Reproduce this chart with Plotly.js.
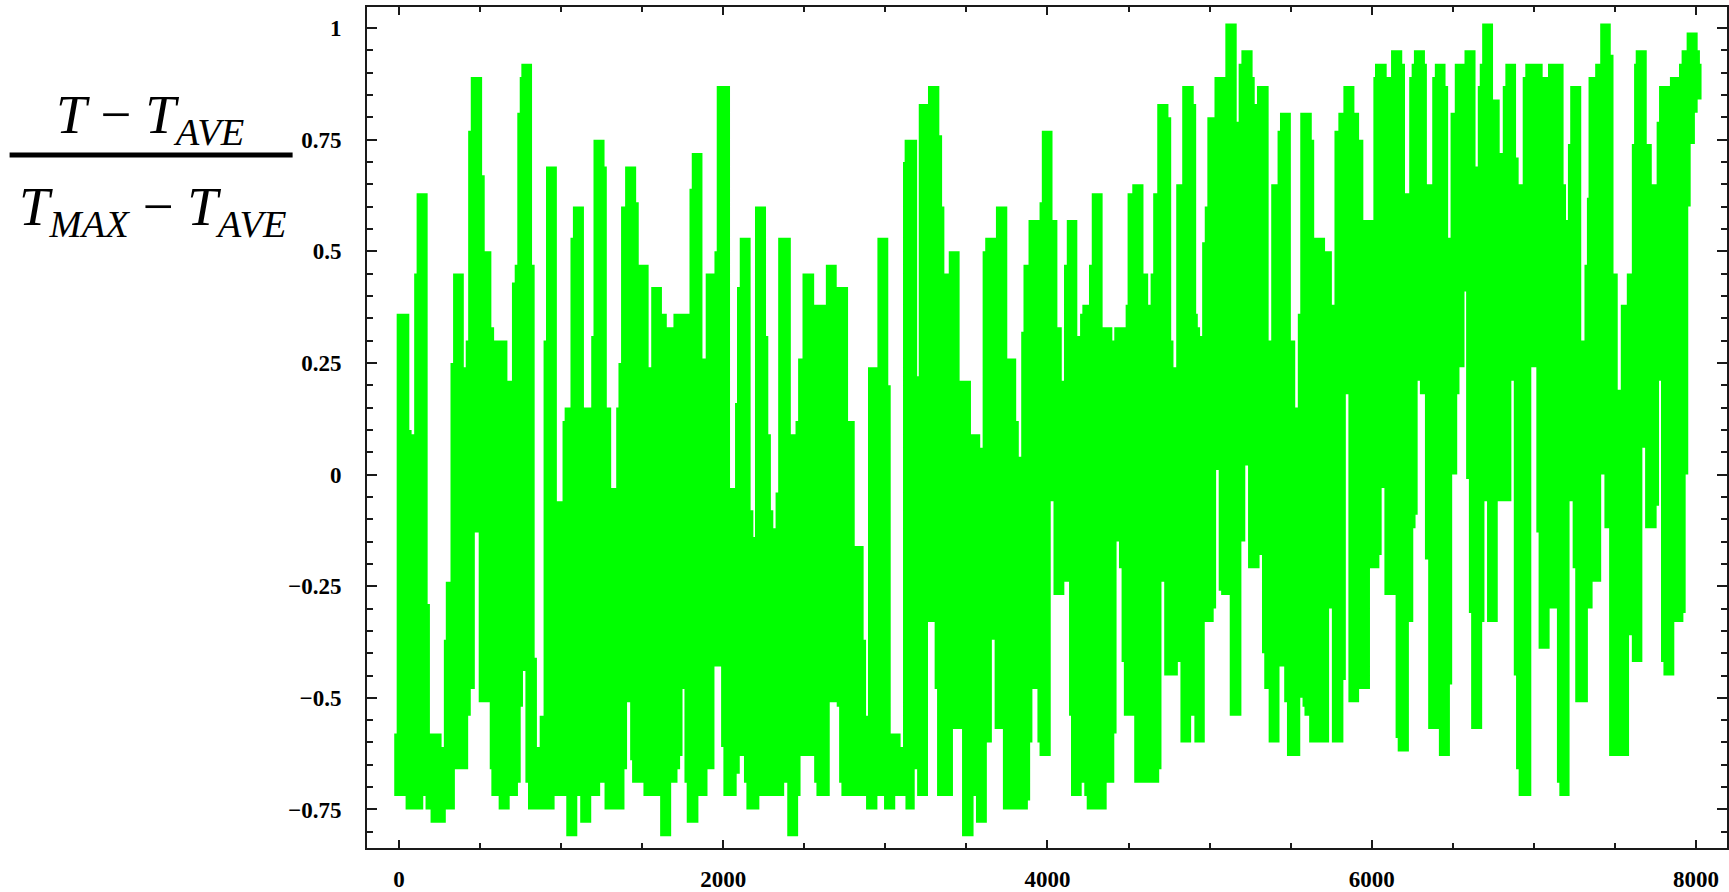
<!DOCTYPE html>
<html>
<head>
<meta charset="utf-8">
<script src="https://cdn.plot.ly/plotly-3.0.1.min.js"></script>
<style>
html,body{margin:0;padding:0;background:#fff;}
#chart{width:1729px;height:892px;}
</style>
</head>
<body>
<div id="chart"></div>
<script>
// Upper edge of the thick green trace (step profile)
const xUpper = [-29,-14,64,78,94,109,177,191,263,277,289,318,334,400,412,427,443,513,529,570,587,669,697,714,730,745,755,821,837,851,868,892,907,974,1009,1022,1058,1073,1141,1186,1200,1268,1282,1309,1340,1354,1370,1395,1463,1479,
1540,1556,1622,1652,1693,1792,1806,1872,1892,1946,1960,2042,2073,2085,2102,2169,2186,2196,2264,2278,2294,2309,2323,2339,2417,2446,2462,2489,2561,2633,2700,2770,2811,2866,2881,2893,2951,3018,3033,3094,3109,
3119,3196,3206,3263,3333,3350,3364,3391,3458,3528,3585,3600,3616,3682,3752,3807,3823,3838,3852,3883,3951,3965,4031,4061,4088,4102,4119,4184,4201,4215,4256,4273,4340,4400,4412,4482,4494,4523,4592,4621,4636,4652,4677,
4746,4763,4777,4794,4831,4902,4917,4927,4941,4954,4970,4986,5030,5097,5167,5179,5196,5265,5278,5292,5364,5380,5419,5434,5501,5528,5544,5559,5630,5645,5712,5754,5770,5794,5825,5893,5922,5948,6010,6020,6092,6119,6188,6205,6231,6246,6260,6328,
6340,6373,6389,6455,6471,6486,6512,6572,6640,6654,6666,6681,6748,6789,6808,6824,6890,6906,6931,6947,7054,7087,7183,7198,7210,7224,7292,7312,7327,7337,7378,7409,7474,7491,7517,7536,7573,7604,7618,7628,7696,7727,7757,7772,7839,7895,7911,7942,8010,8024,8034];
const yUpper = [-0.58,0.36,0.10,0.09,0.45,0.63,-0.29,-0.58,-0.61,-0.37,-0.24,0.25,0.45,0.24,0.30,0.77,0.89,0.67,0.50,0.33,0.30,0.21,0.43,0.47,0.81,0.89,0.92,0.47,-0.41,-0.61,-0.54,0.30,0.69,-0.06,0.12,0.15,0.53,0.60,0.15,0.31,0.75,0.69,0.15,-0.03,0.15,0.25,0.60,0.69,0.61,0.47,
0.24,0.42,0.36,0.33,0.36,0.64,0.72,0.26,0.45,0.50,0.87,-0.03,0.16,0.42,0.53,-0.08,-0.14,0.60,0.31,0.09,-0.08,-0.12,-0.04,0.53,0.09,0.12,0.26,0.45,0.38,0.47,0.42,0.12,-0.16,-0.37,-0.54,0.24,0.53,0.20,-0.58,-0.61,0.70,
0.75,0.22,0.83,0.87,0.76,0.60,0.45,0.50,0.21,0.09,0.06,0.50,0.53,0.60,0.26,0.12,0.04,0.32,0.47,0.57,0.61,0.77,0.57,0.33,0.21,0.47,0.57,0.31,0.36,0.38,0.47,0.63,0.33,0.30,0.33,0.38,0.63,0.65,0.45,0.38,0.45,0.63,0.83,
0.80,0.30,0.24,0.65,0.87,0.83,0.36,0.33,0.31,0.52,0.60,0.80,0.89,1.01,0.79,0.92,0.95,0.89,0.83,0.87,0.30,0.65,0.77,0.81,0.30,0.15,0.36,0.81,0.75,0.53,0.50,0.38,0.77,0.81,0.87,0.81,0.75,0.57,0.89,0.92,0.89,0.95,0.92,0.63,0.89,0.92,0.95,0.92,
0.65,0.89,0.92,0.87,0.53,0.81,0.92,0.95,0.69,0.87,0.92,1.01,0.84,0.72,0.87,0.92,0.71,0.65,0.89,0.92,0.89,0.92,0.65,0.57,0.74,0.87,0.30,0.47,0.62,0.89,0.92,1.01,0.94,0.45,0.19,0.38,0.45,0.74,0.92,0.95,0.74,0.65,0.79,0.87,0.89,0.92,0.95,0.99,0.95,0.92,0.92];

// Lower edge of the thick green trace (step profile)
const xLower = [-29,41,150,164,195,289,345,427,443,468,492,560,570,615,683,734,751,765,780,796,960,1032,1100,1118,1186,1241,1268,1391,1407,1426,1438,1508,
1611,1679,1718,1734,1749,1761,1775,1847,1903,1946,1987,2001,2083,2102,2128,2143,2223,2376,2395,2462,2477,2561,2575,2657,2700,2715,2729,2881,2951,2992,3061,
3124,3181,3196,3263,3304,3319,3417,3473,3544,3559,3626,3657,3674,3725,3879,3893,3907,3938,3951,4020,4037,4104,4133,4145,4211,4227,4242,4365,4412,4426,4441,4457,4471,4535,4689,4703,4720,
4804,4820,4886,4906,4970,5025,5040,5056,5071,5124,5196,5220,5237,5308,5323,5337,5364,5431,5460,5477,5559,5573,5585,5614,5737,5754,5825,5840,5856,5922,5989,6047,6061,6078,6147,6160,6229,6256,6270,6283,6297,6328,
6348,6414,6482,6496,6527,6541,6572,6582,6599,6613,6681,6695,6711,6777,6861,6876,6890,6906,6984,7015,7029,7097,7142,7157,7220,7239,7255,7333,7362,7415,7435,7464,7587,7604,7669,7686,7757,7772,7784,7799,7866,7922,7936,7952,7967,7993,8010,8034];
const yLower = [-0.72,-0.75,-0.72,-0.75,-0.78,-0.75,-0.66,-0.54,-0.48,-0.13,-0.51,-0.66,-0.72,-0.75,-0.72,-0.69,-0.52,-0.44,-0.69,-0.75,-0.72,-0.81,-0.72,-0.78,-0.72,-0.69,-0.75,-0.66,-0.51,-0.64,-0.69,-0.72,
-0.81,-0.69,-0.66,-0.63,-0.48,-0.69,-0.78,-0.72,-0.66,-0.43,-0.61,-0.72,-0.67,-0.63,-0.69,-0.75,-0.72,-0.69,-0.81,-0.72,-0.63,-0.69,-0.72,-0.51,-0.52,-0.69,-0.72,-0.75,-0.72,-0.75,-0.72,
-0.75,-0.66,-0.72,-0.33,-0.48,-0.72,-0.57,-0.81,-0.72,-0.78,-0.60,-0.37,-0.57,-0.75,-0.73,-0.60,-0.48,-0.60,-0.63,-0.06,-0.27,-0.24,-0.54,-0.72,-0.69,-0.72,-0.75,-0.69,-0.58,-0.15,-0.21,-0.42,-0.54,-0.69,-0.66,-0.24,-0.45,
-0.42,-0.60,-0.54,-0.60,-0.33,-0.30,0.01,-0.26,-0.27,-0.54,-0.15,0.02,-0.21,-0.18,-0.40,-0.48,-0.60,-0.43,-0.51,-0.63,-0.50,-0.52,-0.54,-0.60,-0.30,-0.60,-0.46,0.18,-0.51,-0.48,-0.21,-0.18,-0.03,-0.27,-0.59,-0.62,-0.33,-0.12,-0.09,0.21,0.18,-0.19,
-0.57,-0.63,-0.47,0.00,0.18,0.24,0.41,-0.01,-0.31,-0.57,-0.33,-0.06,-0.33,-0.06,0.21,-0.45,-0.66,-0.72,0.24,-0.13,-0.39,-0.30,-0.69,-0.72,-0.06,-0.21,-0.51,-0.30,-0.24,0.00,-0.12,-0.63,-0.36,-0.42,0.06,-0.12,-0.07,0.21,-0.42,-0.45,-0.33,-0.31,0.00,0.60,0.74,0.81,0.84,0.84];

// Axis ticks
const xTickVals = [0, 2000, 4000, 6000, 8000];
const xTickText = ['0', '2000', '4000', '6000', '8000'];
const yTickVals = [-0.75, -0.5, -0.25, 0, 0.25, 0.5, 0.75, 1];
const yTickText = ['\u22120.75', '\u22120.5', '\u22120.25', '0', '0.25', '0.5', '0.75', '1'];

const GREEN = '#00ff00';
const AX = '#1a1a1a';

const traces = [
  {x: xUpper, y: yUpper, type: 'scatter', mode: 'lines',
   line: {shape: 'hv', width: 0, color: GREEN}, hoverinfo: 'skip', showlegend: false},
  {x: xLower, y: yLower, type: 'scatter', mode: 'lines',
   line: {shape: 'hv', width: 0, color: GREEN}, fill: 'tonexty', fillcolor: GREEN,
   hoverinfo: 'skip', showlegend: false}
];

const tickFont = {family: 'Liberation Serif, Times New Roman, serif', size: 23, weight: 'bold', color: '#000'};
const titleFont = {family: 'Liberation Serif, Times New Roman, serif', size: 55, color: '#000'};

const layout = {
  width: 1729, height: 892,
  margin: {l: 367, r: 2, t: 7, b: 44, pad: 0},
  paper_bgcolor: '#fff', plot_bgcolor: '#fff',
  showlegend: false,
  xaxis: {
    range: [-197, 8191], showgrid: false, zeroline: false,
    tickmode: 'array', tickvals: xTickVals, ticktext: xTickText,
    ticks: 'inside', ticklen: 8, tickwidth: 2, tickcolor: AX,
    showline: true, linecolor: AX, linewidth: 2, mirror: 'ticks',
    tickfont: tickFont, ticklabelstandoff: 9,
    minor: {dtick: 500, tick0: 0, ticks: 'inside', ticklen: 5, tickwidth: 2, tickcolor: AX, showgrid: false}
  },
  yaxis: {
    range: [-0.8363, 1.047], showgrid: false, zeroline: false,
    tickmode: 'array', tickvals: yTickVals, ticktext: yTickText,
    ticks: 'inside', ticklen: 10, tickwidth: 2, tickcolor: AX,
    showline: true, linecolor: AX, linewidth: 2, mirror: 'ticks',
    tickfont: tickFont, ticklabelstandoff: 19,
    minor: {dtick: 0.05, tick0: 0, ticks: 'inside', ticklen: 6, tickwidth: 2, tickcolor: AX, showgrid: false}
  },
  annotations: [
    {xref: 'paper', yref: 'paper', x: -0.1595, y: 0.8680, xanchor: 'center', yanchor: 'middle',
     showarrow: false, font: titleFont,
     text: '<i>T</i> \u2212 <i>T<sub>AVE</sub></i>'},
    {xref: 'paper', yref: 'paper', x: -0.1580, y: 0.7585, xanchor: 'center', yanchor: 'middle',
     showarrow: false, font: titleFont,
     text: '<i>T<sub>MAX</sub></i> \u2212 <i>T<sub>AVE</sub></i>'}
  ],
  shapes: [
    {type: 'line', xref: 'paper', yref: 'paper', x0: -0.2628, x1: -0.0547, y0: 0.8239, y1: 0.8239,
     line: {color: '#000', width: 5}}
  ]
};

Plotly.newPlot('chart', traces, layout, {displayModeBar: false, staticPlot: true});
</script>
</body>
</html>
